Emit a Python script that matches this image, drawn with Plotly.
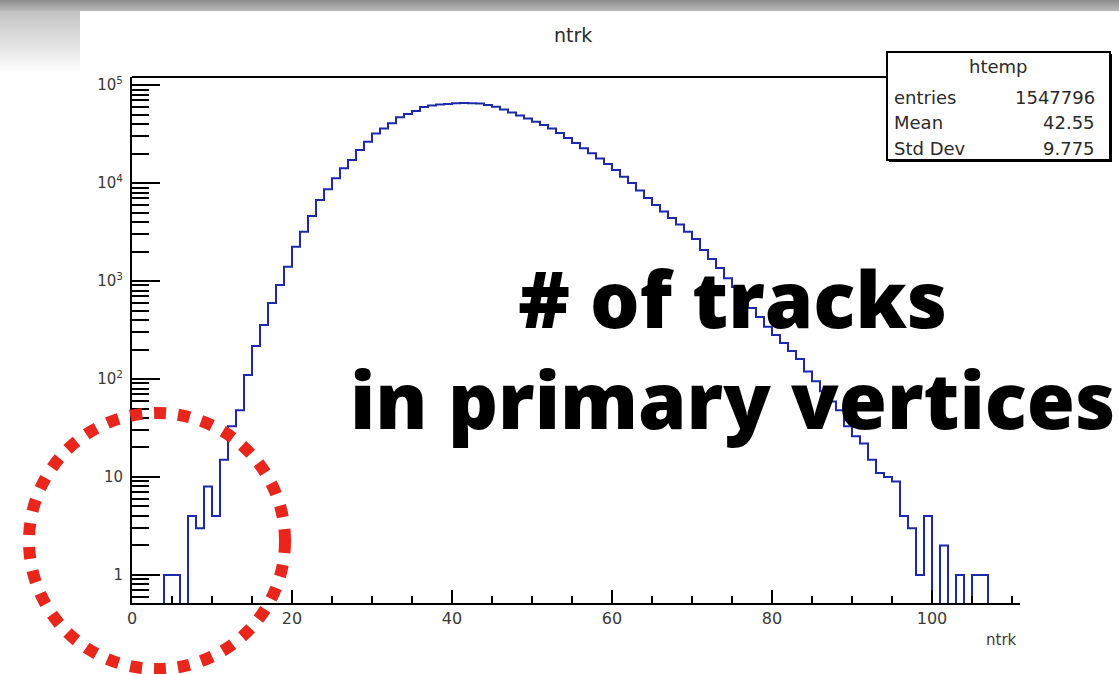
import plotly.graph_objects as go

# ---------------- data ----------------
bin_width = 1
bin_lo = list(range(0, 111))          # lower edges of the 111 bins (0..110)
counts = [
    0, 0, 0, 0, 1, 1, 0, 4, 3, 8,                                        # 0-9
    4, 15, 33, 48, 110, 217, 356, 597, 910, 1400,                        # 10-19
    2240, 3190, 4610, 6710, 8630, 11170, 14130, 17170, 21700, 26400,     # 20-29
    32100, 36100, 40700, 46800, 50600, 54300, 59700, 61800, 63200, 64100,  # 30-39
    65000, 65400, 65300, 64700, 62400, 60100, 56200, 52400, 48800, 45500,  # 40-49
    42200, 39100, 36000, 32400, 28800, 25600, 22600, 20100, 17800, 15600,  # 50-59
    13600, 11600, 10000, 8380, 7030, 5970, 5120, 4400, 3770, 3190,      # 60-69
    2680, 2070, 1680, 1360, 1070, 868, 671, 530, 429, 342,               # 70-79
    281, 233, 193, 160, 119, 95, 75, 59, 48, 33,                         # 80-89
    26, 22, 15, 11, 10, 9, 4, 3, 1, 4,                                   # 90-99
    0, 2, 0, 1, 0, 1, 1, 0, 0, 0, 0,                                     # 100-110
]
x_ticks = [0, 20, 40, 60, 80, 100]
y_ticks = [1, 10, 100, 1000, 10000, 100000]
y_ticktext = ["1", "10", "10<sup>2</sup>", "10<sup>3</sup>", "10<sup>4</sup>", "10<sup>5</sup>"]
stats_labels = ["entries", "Mean", "Std Dev"]
stats_values = ["1547796", "42.55", "9.775"]
hist_name = "htemp"
title_text = "ntrk"
xaxis_title = "ntrk"
overlay_text = "# of tracks<br>in primary vertices"

# ---------------- geometry helpers ----------------
W, H = 1119, 674
PL, PR, PT, PB = 132, 1020, 77, 603


def px(x):
    return (x - PL) / (PR - PL)


def py(y):
    return (PB - y) / (PB - PT)


# step outline like ROOT "HIST"; empty bins fall below the log axis (clipped)
floor = 1e-3
edges = bin_lo + [bin_lo[-1] + bin_width]
ys = [c if c > 0 else floor for c in counts]
ys = ys + [ys[-1]]

fig = go.Figure()
fig.add_trace(go.Scatter(
    x=edges, y=ys, mode="lines", line=dict(color="#1c2aa8", width=2, shape="hv"),
    hoverinfo="skip", showlegend=False,
))

minor_y = [m * 10 ** k for k in range(-1, 6) for m in range(2, 10)]

fig.update_layout(
    width=W, height=H,
    margin=dict(l=PL, r=W - PR, t=PT, b=H - PB),
    paper_bgcolor="white", plot_bgcolor="white",
    showlegend=False,
    font=dict(family="DejaVu Sans", color="#333333"),
    xaxis=dict(
        range=[0, 111], showgrid=False, zeroline=False,
        showline=True, linecolor="black", linewidth=2,
        ticks="inside", ticklen=13, tickwidth=1.5, tickcolor="black",
        tickvals=x_ticks, ticktext=[str(v) for v in x_ticks],
        tickfont=dict(size=16, color="#3a3a3a", family="DejaVu Sans"),
        minor=dict(ticks="inside", ticklen=7, tickwidth=1.5, tickcolor="black",
                   dtick=5, tick0=0, showgrid=False),
        mirror=False,
    ),
    yaxis=dict(
        type="log", range=[-0.286, 5.082], showgrid=False, zeroline=False,
        showline=True, linecolor="black", linewidth=2,
        ticks="inside", ticklen=28, tickwidth=2, tickcolor="black",
        tickvals=y_ticks, ticktext=y_ticktext,
        tickfont=dict(size=15, color="#3a3a3a", family="DejaVu Sans"),
        ticklabelstandoff=4,
        minor=dict(ticks="inside", ticklen=17, tickwidth=2, tickcolor="black",
                   tickvals=minor_y, showgrid=False),
    ),
)

shapes = []
# top frame line
shapes.append(dict(type="line", xref="paper", yref="paper", x0=0, x1=1, y0=1, y1=1,
                   line=dict(color="black", width=2), layer="above"))

# slide chrome: gray gradient band at top and the tab at the top-left
band_top = (143, 143, 143)
band_bot = (184, 184, 184)
for i in range(11):
    t = i / 10
    c = tuple(int(band_top[k] + (band_bot[k] - band_top[k]) * t) for k in range(3))
    shapes.append(dict(type="rect", xref="paper", yref="paper",
                       x0=px(0), x1=px(W), y0=py(i + 1), y1=py(i),
                       fillcolor="rgb(%d,%d,%d)" % c, line=dict(width=0), layer="above"))
tab_top = (196, 196, 196)
tab_bot = (252, 252, 252)
n = 30
for i in range(n):
    t = i / (n - 1)
    c = tuple(int(tab_top[k] + (tab_bot[k] - tab_top[k]) * t) for k in range(3))
    y0 = 11 + i * 2
    shapes.append(dict(type="rect", xref="paper", yref="paper",
                       x0=px(0), x1=px(80), y0=py(y0 + 2), y1=py(y0),
                       fillcolor="rgb(%d,%d,%d)" % c, line=dict(width=0), layer="above"))

# stats box (shadow + box)
shapes.append(dict(type="rect", xref="paper", yref="paper",
                   x0=px(889), x1=px(1112), y0=py(162), y1=py(54),
                   fillcolor="black", line=dict(width=0), layer="above"))
shapes.append(dict(type="rect", xref="paper", yref="paper",
                   x0=px(887), x1=px(1110), y0=py(160), y1=py(52),
                   fillcolor="white", line=dict(color="black", width=2), layer="above"))

# red dotted circle
shapes.append(dict(type="circle", xref="paper", yref="paper",
                   x0=px(29), x1=px(285), y0=py(669), y1=py(413),
                   line=dict(color="#e8261b", width=12, dash="dot"), layer="above"))

fig.update_layout(shapes=shapes)

ann = []
ann.append(dict(text=title_text, xref="paper", yref="paper", x=px(573), y=py(35),
                showarrow=False, xanchor="center", yanchor="middle",
                font=dict(size=19, color="#2a2a2a", family="DejaVu Sans")))
ann.append(dict(text=xaxis_title, xref="paper", yref="paper", x=px(1019), y=py(640),
                showarrow=False, xanchor="right", yanchor="middle",
                font=dict(size=15, color="#3a3a3a", family="DejaVu Sans")))
ann.append(dict(text=hist_name, xref="paper", yref="paper", x=px(998), y=py(67),
                showarrow=False, xanchor="center", yanchor="middle",
                font=dict(size=18, color="#2a2a2a", family="DejaVu Sans")))
for i, (lab, val) in enumerate(zip(stats_labels, stats_values)):
    yy = py(97 + i * 25.5)
    ann.append(dict(text=lab, xref="paper", yref="paper", x=px(892), y=yy,
                    showarrow=False, xanchor="left", yanchor="middle",
                    font=dict(size=18, color="#2a2a2a", family="DejaVu Sans")))
    ann.append(dict(text=val, xref="paper", yref="paper", x=px(1097), y=yy,
                    showarrow=False, xanchor="right", yanchor="middle",
                    font=dict(size=18, color="#2a2a2a", family="DejaVu Sans")))
ann.append(dict(text=overlay_text, xref="paper", yref="paper", x=px(732), y=py(348),
                showarrow=False, xanchor="center", yanchor="middle", align="center",
                font=dict(size=78, color="black", family="Open Sans", weight=800)))
fig.update_layout(annotations=ann)

fig.write_html("out.html", config={"displayModeBar": False})
